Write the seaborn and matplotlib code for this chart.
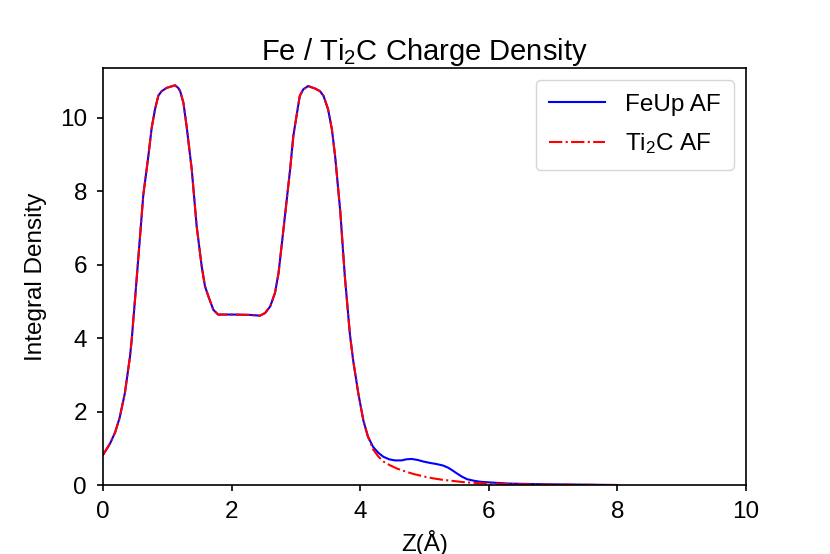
import matplotlib
matplotlib.use("Agg")
import matplotlib.pyplot as plt
import pandas as pd
import seaborn as sns

# shared part of both profiles (the two curves overlap up to ~4.1 A)
z_common = [0.0, 0.11, 0.19, 0.26, 0.34, 0.42, 0.446, 0.5, 0.575, 0.627,
            0.705, 0.757, 0.809, 0.861, 0.912, 0.99, 1.12, 1.17, 1.2, 1.25,
            1.3, 1.38, 1.457, 1.535, 1.586, 1.64, 1.716, 1.79, 2.03, 2.29,
            2.44, 2.52, 2.6, 2.675, 2.73, 2.8, 2.91, 2.96, 3.01, 3.06, 3.115,
            3.19, 3.3, 3.375, 3.43, 3.5, 3.56, 3.61, 3.69, 3.76, 3.84, 3.89,
            3.97, 4.05, 4.12]
rho_common = [0.82, 1.13, 1.44, 1.84, 2.5, 3.5, 3.95, 5.1, 6.75, 7.9, 8.95,
              9.72, 10.23, 10.6, 10.72, 10.81, 10.88, 10.81, 10.72, 10.41,
              9.77, 8.59, 7.04, 5.95, 5.41, 5.13, 4.77, 4.64, 4.64, 4.63,
              4.61, 4.68, 4.86, 5.23, 5.77, 6.86, 8.59, 9.5, 10.05, 10.59,
              10.77, 10.86, 10.79, 10.72, 10.59, 10.23, 9.68, 8.95, 7.45,
              5.7, 4.1, 3.4, 2.5, 1.75, 1.32]

z_feup_tail = [4.2, 4.28, 4.36, 4.45, 4.54, 4.64, 4.72, 4.8, 4.9, 4.98, 5.09,
               5.19, 5.29, 5.37, 5.45, 5.5, 5.58, 5.66, 5.76, 5.86, 6.02, 6.3,
               6.9, 7.5, 8.0]
rho_feup_tail = [1.04, 0.88, 0.77, 0.7, 0.67, 0.67, 0.7, 0.71, 0.68, 0.64,
                 0.6, 0.57, 0.53, 0.47, 0.38, 0.32, 0.23, 0.16, 0.12, 0.09,
                 0.07, 0.04, 0.02, 0.01, 0.0]

z_ti2c_tail = [4.2, 4.28, 4.36, 4.46, 4.57, 4.7, 4.83, 5.0, 5.14, 5.29, 5.45,
               5.6, 5.76, 6.02, 6.5, 7.0, 8.0]
rho_ti2c_tail = [0.97, 0.78, 0.64, 0.54, 0.45, 0.37, 0.3, 0.23, 0.18, 0.14,
                 0.11, 0.08, 0.06, 0.04, 0.02, 0.01, 0.0]

labels = ["FeUp AF", "Ti$_2$C AF"]

plt.rcParams["font.family"] = ["Liberation Sans", "DejaVu Sans"]
plt.rcParams["mathtext.default"] = "regular"
plt.rcParams["font.size"] = 17.5
plt.rcParams["axes.linewidth"] = 1.2


def build_frame() -> pd.DataFrame:
    feup = pd.DataFrame({"z": z_common + z_feup_tail,
                         "rho": rho_common + rho_feup_tail})
    feup["system"] = labels[0]
    ti2c = pd.DataFrame({"z": z_common + z_ti2c_tail,
                         "rho": rho_common + rho_ti2c_tail})
    ti2c["system"] = labels[1]
    return pd.concat([feup, ti2c], ignore_index=True)


def main() -> None:
    df = build_frame()

    fig = plt.figure(figsize=(8.3, 5.54), dpi=100)
    ax = fig.add_axes([0.1241, 0.1245, 0.7747, 0.7527])

    sns.lineplot(data=df, x="z", y="rho", hue="system", style="system",
                 palette={labels[0]: "blue", labels[1]: "red"},
                 dashes={labels[0]: "", labels[1]: (6.4, 1.6, 1.0, 1.6)},
                 linewidth=1.5, estimator=None, ax=ax)

    ax.set_xlim(0, 10)
    ax.set_ylim(0, 11.35)
    ax.set_title("Fe / Ti$_2$C Charge Density", fontsize=21, pad=6)
    # the reference crops the x label at the bottom edge, keep it that way
    ax.set_xlabel("Z(Å)", labelpad=5)
    ax.set_ylabel("Integral Density", labelpad=9)
    ax.tick_params(labelsize=17.5, length=4.5, width=1.2, pad=7)
    ax.legend(title=None, loc="upper right", handlelength=2.3,
              fontsize=17.5, labelspacing=0.65, borderpad=0.55)

    fig.savefig("out.png", dpi=100)
    plt.close(fig)


if __name__ == "__main__":
    main()
